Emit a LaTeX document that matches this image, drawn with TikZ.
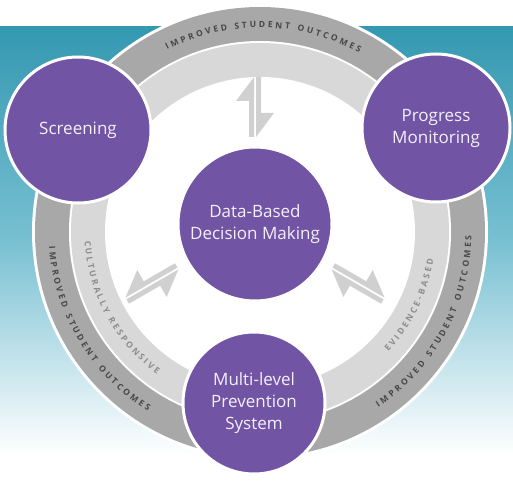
\documentclass[tikz,border=0pt]{standalone}
\usepackage{fontspec}
\setmainfont{Open Sans}
\usetikzlibrary{calc,decorations.text}

\definecolor{mtsspurple}{RGB}{114,84,164}
\definecolor{labelwhite}{RGB}{244,240,250}
\definecolor{tealtop}{RGB}{52,152,177}
\definecolor{tealmid}{RGB}{120,192,210}
\definecolor{ringdark}{RGB}{168,168,168}
\definecolor{ringlight}{RGB}{216,216,216}
\definecolor{arrowgray}{RGB}{208,208,208}

% two half-arrows side by side, one out and one back
\newcommand{\harpoonpair}[3]{%
  \fill[arrowgray, shift={#1}, rotate=#2, xscale=#3]
    (-1,30) -- (-19,6) -- (-6,6) -- (-6,-30) -- (-1,-30) -- cycle
    (1,-30) -- (19,-6) -- (6,-6) -- (6,30) -- (1,30) -- cycle;}

\begin{document}
\begin{tikzpicture}[x=1pt, y=1pt,
    hub/.style={circle, fill=mtsspurple, draw=white, line width=3pt,
      minimum size=#1, inner sep=0pt, text=labelwhite, align=center,
      font=\fontsize{17}{22}\selectfont},
    hub/.default=150pt,
    outer text/.style={decorate, decoration={text along path,
      text align=fit to path, text color=black!72,
      text={|\bfseries\fontsize{8.5}{9}\selectfont|#1}}},
    inner text/.style={decorate, decoration={text along path,
      text align=fit to path, text color=black!45,
      text={|\bfseries\fontsize{8.5}{9}\selectfont|#1}}}]

  \useasboundingbox (0,0) rectangle (513,480);
  \fill[white] (0,0) rectangle (513,480);
  \shade[top color=tealtop, bottom color=white, middle color=tealmid]
    (0,25) rectangle (513,453);

  % the ring
  \coordinate (ringc) at (260,248);
  \fill[white] (ringc) circle (228pt);
  \fill[ringdark] (ringc) circle (225pt);
  \fill[white] (ringc) circle (191pt);
  \fill[ringlight] (ringc) circle (189pt);
  \fill[white] (ringc) circle (155pt);

  \path[outer text=IMPROVED STUDENT OUTCOMES]
    ($(ringc)+(117:204.5)$) arc[start angle=117, end angle=61, radius=204.5pt];
  \path[outer text=IMPROVED STUDENT OUTCOMES]
    ($(ringc)+(184:211.5)$) arc[start angle=184, end angle=238, radius=211.5pt];
  \path[outer text=IMPROVED STUDENT OUTCOMES]
    ($(ringc)+(-56:211.5)$) arc[start angle=-56, end angle=-1, radius=211.5pt];
  \path[inner text=CULTURALLY RESPONSIVE]
    ($(ringc)+(183:175.5)$) arc[start angle=183, end angle=234, radius=175.5pt];
  \path[inner text=EVIDENCE-BASED]
    ($(ringc)+(-43:175.5)$) arc[start angle=-43, end angle=-9, radius=175.5pt];

  % circles
  \node[hub=154pt] (data) at (255,256) {Data-Based\\Decision Making};
  \node[hub=146pt] (screen) at (78,350) {Screening};
  \node[hub=148pt] (progress) at (436,352) {Progress\\Monitoring};
  \node[hub=142pt] (multi) at (254,77) {Multi-level\\Prevention\\System};

  % arrows between the centre and the ring
  \harpoonpair{($(data.center)+(90:117)$)}{0}{1}
  \harpoonpair{($(data.center)+(210:119)$)}{120}{-1}
  \harpoonpair{($(data.center)+(330:119)$)}{-120}{1}
\end{tikzpicture}
\end{document}
